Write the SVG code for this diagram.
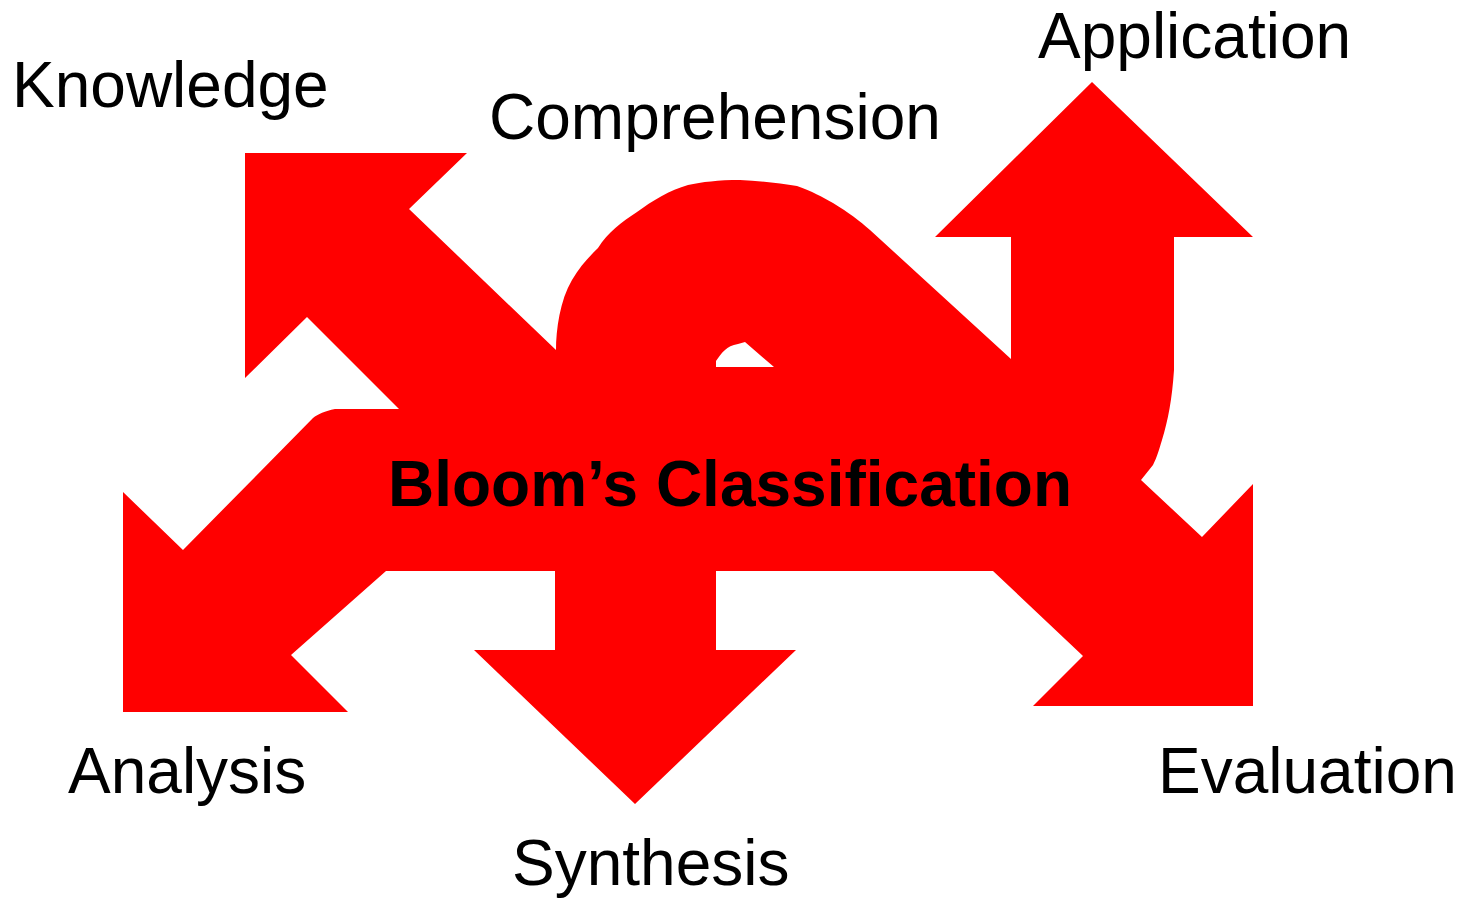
<svg xmlns="http://www.w3.org/2000/svg" width="1463" height="900" viewBox="0 0 1463 900">
  <style>
    .shape { fill: #ff0000; fill-rule: evenodd; stroke: none; }
    .label { font-family: "Liberation Sans", Arial, sans-serif; font-size: 64px; fill: #000000; }
    .title { font-family: "Liberation Sans", Arial, sans-serif; font-size: 64px; font-weight: bold; fill: #000000; }
  </style>
  <rect width="1463" height="900" fill="#ffffff"/>

  <!-- Combined multi-directional arrow with central band and top loop -->
  <g id="connectors">
    <path class="shape" d="
      M245,153 L467,153 L409,209 L556,350
      C556,330 560,300 572,280 C580,266 590,256 598,248
      C608,232 622,222 637,212 C652,201 670,190 688,185
      C702,182 718,180 740,180 C760,181 780,183 797,186
      C812,191 822,197 833,203 C848,212 860,221 870,230
      L1011,359 L1011,237 L935,237 L1092,82 L1253,237 L1174,237 L1174,370
      C1172,400 1168,420 1162,440 C1159,450 1157,457 1153,465
      L1141,480 L1202,537 L1253,484 L1253,706 L1033,706 L1083,656 L993,571
      L716,571 L716,650 L796,650 L635,804 L474,650 L555,650 L555,571
      L386,571 L291,655 L348,712 L123,712 L123,492 L183,550 L313,418
      C318,414 325,411 335,409 L399,409 L307,317 L245,378 Z
      M716,367 L774,367 L745,342 L738,344 C732,345 728,347 725,350 C721,353 719,357 716,361 Z"/>
  </g>

  <g id="center">
    <text class="title" x="388" y="506">Bloom’s Classification</text>
  </g>
  <g id="knowledge">
    <text class="label" x="12" y="107">Knowledge</text>
  </g>
  <g id="comprehension">
    <text class="label" x="489" y="139">Comprehension</text>
  </g>
  <g id="application">
    <text class="label" x="1038" y="58">Application</text>
  </g>
  <g id="analysis">
    <text class="label" x="68" y="793">Analysis</text>
  </g>
  <g id="synthesis">
    <text class="label" x="512" y="885">Synthesis</text>
  </g>
  <g id="evaluation">
    <text class="label" x="1158" y="793">Evaluation</text>
  </g>
</svg>
